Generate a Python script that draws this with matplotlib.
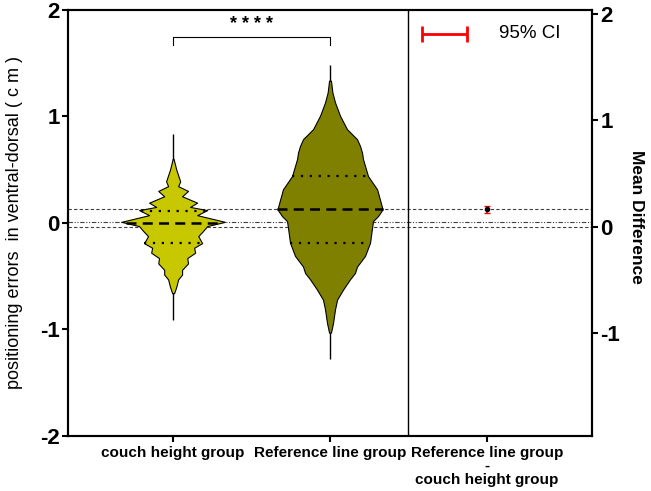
import numpy as np
import matplotlib
matplotlib.use('Agg')
import matplotlib.pyplot as plt

plt.rcParams['font.family'] = ['Liberation Sans', 'DejaVu Sans']

# 组别
groups = ['couch height group', 'Reference line group',
          'Reference line group\n-\ncouch height group']

# couch height group 小提琴轮廓 (y, 半宽)
couch_y = [0.60, 0.50, 0.39, 0.345, 0.30, 0.25, 0.19, 0.15, 0.12, 0.073, 0.01,
           -0.03, -0.077, -0.124, -0.19, -0.233, -0.28, -0.33, -0.38, -0.44,
           -0.485, -0.53, -0.60, -0.66]
couch_w = [0.003, 0.02, 0.045, 0.032, 0.095, 0.057, 0.153, 0.108, 0.217, 0.153,
           0.33, 0.217, 0.19, 0.16, 0.185, 0.134, 0.14, 0.09, 0.095, 0.057,
           0.057, 0.032, 0.02, 0.006]
couch_range = [-0.915, 0.83]
couch_q = [-0.19, 0.0, 0.11]   # 下四分位, 中位数, 上四分位

# Reference line group 小提琴轮廓
ref_y = [1.335, 1.225, 1.13, 1.005, 0.88, 0.786, 0.723, 0.66, 0.60, 0.44, 0.315,
         0.22, 0.127, 0.064, 0.017, -0.045, -0.186, -0.31, -0.41, -0.47, -0.53,
         -0.626, -0.72, -0.81, -0.94, -1.03]
ref_w = [0.006, 0.015, 0.032, 0.064, 0.108, 0.172, 0.191, 0.204, 0.21, 0.242, 0.30,
         0.318, 0.335, 0.306, 0.274, 0.268, 0.255, 0.223, 0.172, 0.159, 0.127,
         0.083, 0.045, 0.032, 0.019, 0.006]
ref_range = [-1.28, 1.48]
ref_q = [-0.186, 0.127, 0.44]

# 参考线
mean_lines = [0.127, 0.008, -0.035]
# 均值差及95%置信区间（右轴）
mean_diff = 0.162
ci_low = 0.127
ci_high = 0.197
right_zero = -0.035

fig = plt.figure(figsize=(6.51, 4.91), dpi=100)
ax = fig.add_axes([0.1045, 0.112, 0.8049, 0.868])
ax.set_xlim(-0.67, 2.67)
ax.set_ylim(-2, 2)

# 水平参考线
ax.axhline(mean_lines[0], color='0.25', lw=0.8, linestyle=(0, (3, 2)), zorder=1)
ax.axhline(mean_lines[1], color='0.25', lw=0.8, linestyle=(0, (4, 1.5, 1, 1.5, 1, 1.5)), zorder=1)
ax.axhline(mean_lines[2], color='0.25', lw=0.8, linestyle=(0, (3, 2)), zorder=1)

def violin(x0, ys, ws, rng, q, color):
    ys = np.array(ys)
    ws = np.array(ws)
    ax.vlines(x0, rng[0], rng[1], color='black', lw=1, zorder=2)
    ax.fill_betweenx(ys, x0 - ws, x0 + ws, facecolor=color, edgecolor='black',
                     lw=0.8, zorder=3)
    for i, qv in enumerate(q):
        w = np.interp(qv, ys[::-1], ws[::-1])
        if i == 1:
            ax.hlines(qv, x0 - w, x0 + w, color='black', lw=1.8,
                      linestyle=(0, (4, 2.5)), zorder=4)
        else:
            ax.hlines(qv, x0 - w, x0 + w, color='black', lw=1.6,
                      linestyle=(0, (1, 3)), zorder=4)

violin(0, couch_y, couch_w, couch_range, couch_q, '#c8c800')
violin(1, ref_y, ref_w, ref_range, ref_q, '#808000')

# 分隔线
ax.axvline(1.5, color='black', lw=1)

# 显著性标记
ax.plot([0, 0, 1, 1], [1.67, 1.746, 1.746, 1.67], color='black', lw=0.8)
ax.text(0.5, 1.86, '* * * *', ha='center', va='center', fontsize=13, fontweight='bold')

# 95% CI 图例
ax.errorbar(1.73, 1.774, xerr=0.143, color='red', lw=2, capsize=6, capthick=2)
ax.text(2.08, 1.774, '95% CI', ha='left', va='center', fontsize=13.5)

ax.set_xticks([0, 1, 2])
ax.set_xticklabels(groups, fontsize=11, fontweight='bold', linespacing=0.95)
ax.set_yticks([-2, -1, 0, 1, 2])
ax.set_yticklabels(['-2', '-1', '0', '1', '2'], fontsize=16, fontweight='bold')
ax.tick_params(axis='both', width=1.5, length=4)
ax.tick_params(axis='x', pad=3)
ax.tick_params(axis='y', pad=2)
for s in ax.spines.values():
    s.set_linewidth(1.5)
ax.set_ylabel('positioning errors  in ventral-dorsal ( c m )', fontsize=13, labelpad=12)

# 右轴：均值差
ax2 = ax.twinx()
ax2.set_ylim(-2 - right_zero, 2 - right_zero)
ax2.errorbar(2, mean_diff, yerr=[[mean_diff - ci_low], [ci_high - mean_diff]],
             fmt='o', color='black', ecolor='red', markersize=3, capsize=2.5, elinewidth=1.2)
ax2.set_yticks([-1, 0, 1, 2])
ax2.set_yticklabels(['-1', '0', '1', '2'], fontsize=16, fontweight='bold')
ax2.tick_params(axis='y', width=1.5, length=4, pad=2)
ax2.set_ylabel('Mean Difference', fontsize=12.5, fontweight='bold', rotation=270, labelpad=20)
ax2.yaxis.set_label_coords(1.1, 0.515)
for s in ax2.spines.values():
    s.set_linewidth(1.5)

fig.savefig('out.png', dpi=100)
